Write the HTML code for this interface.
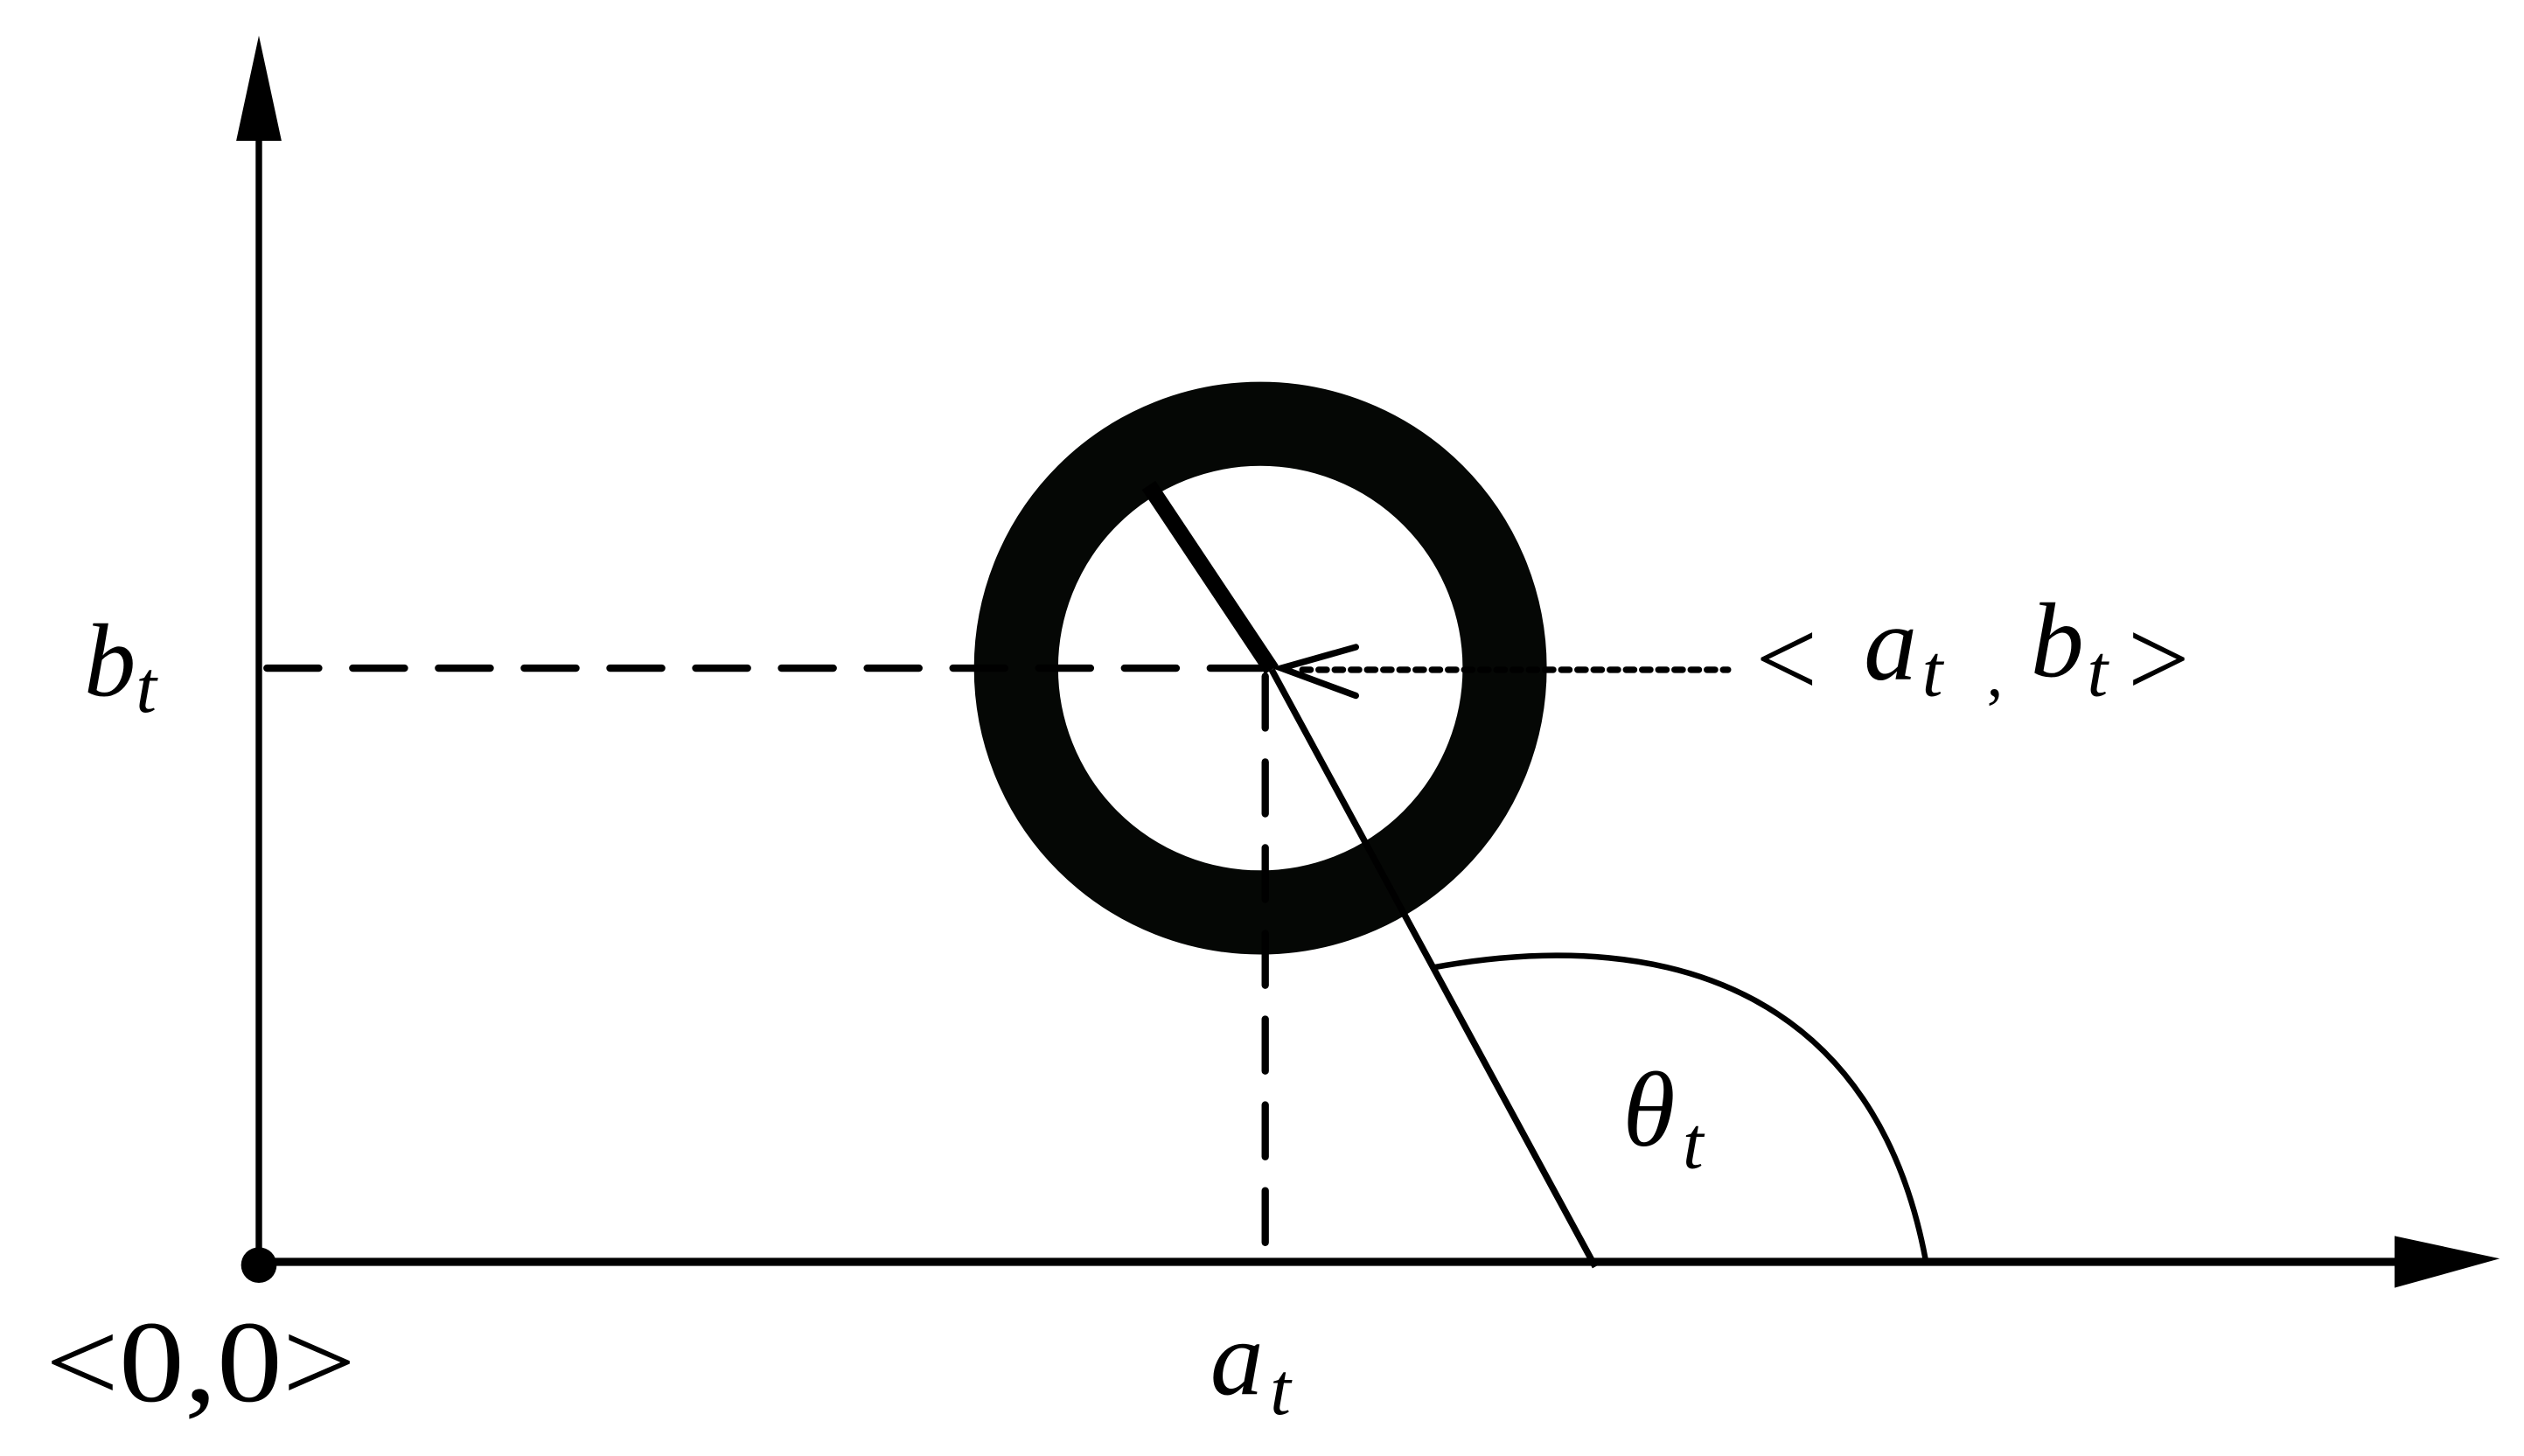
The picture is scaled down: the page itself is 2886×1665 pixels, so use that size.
<!DOCTYPE html>
<html><head><meta charset="utf-8"><style>
html,body{margin:0;padding:0;background:#fff;}
svg{display:block;}
text{font-family:"Liberation Serif",serif;fill:#000;}
</style></head><body>
<svg width="2886" height="1665" viewBox="0 0 1560 900" preserveAspectRatio="none" xmlns="http://www.w3.org/2000/svg">
<rect width="1560" height="900" fill="#fff"/>
<line x1="160" y1="782" x2="160" y2="80" stroke="#000" stroke-width="4"/>
<polygon points="160,22 146,87 174,87" fill="#000"/>
<line x1="160" y1="780" x2="1485" y2="780" stroke="#000" stroke-width="5"/>
<polygon points="1545,778 1480,764 1480,796" fill="#000"/>
<circle cx="160" cy="782" r="11" fill="#000"/>
<circle cx="779" cy="413" r="151" fill="none" stroke="#050705" stroke-width="52"/>
<line x1="165" y1="413" x2="780" y2="413" stroke="#000" stroke-width="4.5" stroke-dasharray="32 21" stroke-linecap="round"/>
<line x1="782" y1="418" x2="782" y2="775" stroke="#000" stroke-width="4.5" stroke-dasharray="32 21" stroke-linecap="round"/>
<line x1="805" y1="414" x2="1068" y2="414" stroke="#000" stroke-width="4" stroke-dasharray="5 5" stroke-linecap="round"/>
<polyline points="838,400 792,413 838,430" fill="none" stroke="#000" stroke-width="4" stroke-linecap="round"/>
<line x1="710" y1="300" x2="786" y2="414" stroke="#000" stroke-width="10"/>
<line x1="786" y1="414" x2="986" y2="783" stroke="#000" stroke-width="4"/>
<path d="M886,598 C1040,570 1160,620 1190,778" fill="none" stroke="#000" stroke-width="3.5"/>
<text x="52" y="430" font-size="64" font-style="italic">b</text>
<text x="84" y="440" font-size="46" font-style="italic">t</text>
<text x="1085" y="430" font-size="68">&lt;</text>
<text x="1152" y="420" font-size="66" font-style="italic">a</text>
<text x="1188" y="430" font-size="46" font-style="italic">t</text>
<text x="1228" y="430" font-size="40">,</text>
<text x="1255" y="418" font-size="66" font-style="italic">b</text>
<text x="1290" y="430" font-size="46" font-style="italic">t</text>
<text x="1315" y="430" font-size="68">&gt;</text>
<text x="1003" y="708" font-size="66" font-style="italic">θ</text>
<text x="1040" y="722" font-size="46" font-style="italic">t</text>
<text x="748" y="862" font-size="66" font-style="italic">a</text>
<text x="785" y="874" font-size="46" font-style="italic">t</text>
<text x="28" y="866" font-size="72" textLength="192" lengthAdjust="spacingAndGlyphs">&lt;0,0&gt;</text>
</svg>
</body></html>
